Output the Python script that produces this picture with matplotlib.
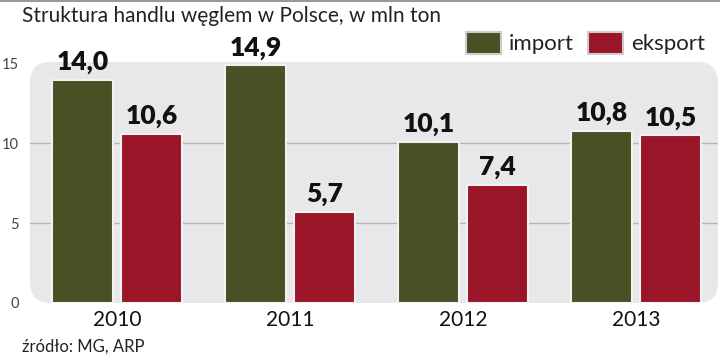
import matplotlib
matplotlib.use("Agg")
import matplotlib.pyplot as plt
from matplotlib.patches import FancyBboxPatch, Patch
from matplotlib.lines import Line2D
import numpy as np

plt.rcParams['font.family'] = ['Lato', 'DejaVu Sans']

# data
years = ['2010', '2011', '2012', '2013']
import_vals = [14.0, 14.9, 10.1, 10.8]
export_vals = [10.6, 5.7, 7.4, 10.5]
series_names = ['import', 'eksport']
yticks = [0, 5, 10, 15]

c_imp = '#4a5024'
c_exp = '#9b1528'

fig = plt.figure(figsize=(7.2, 3.6), dpi=100)
ax = fig.add_axes([30/720, 1 - 303/360, 688/720, (303 - 62)/360])

# rounded grey panel behind the plot
ax.patch.set_visible(False)
panel = FancyBboxPatch((0, 0), 1, 1, boxstyle='round,pad=0,rounding_size=0.03',
                       mutation_aspect=2.85, transform=ax.transAxes,
                       facecolor='#e8e8ea', edgecolor='none', zorder=0, clip_on=False)
ax.add_patch(panel)

x = np.arange(len(years))
w = 0.35
off = 0.2
b1 = ax.bar(x - off, import_vals, w, color=c_imp, edgecolor='#f2f2f2', linewidth=1.5, zorder=3)
b2 = ax.bar(x + off, export_vals, w, color=c_exp, edgecolor='#f2f2f2', linewidth=1.5, zorder=3)

for bars, vals in ((b1, import_vals), (b2, export_vals)):
    for b, v in zip(bars, vals):
        ax.text(b.get_x() + b.get_width() / 2, v + 0.35, f'{v:.1f}'.replace('.', ','),
                ha='center', va='bottom', fontsize=19, fontweight='heavy', color='#111111',
                zorder=4)

for yv in (5, 10):
    ax.axhline(yv, color='#b5b5b5', linewidth=1, zorder=1)

ax.set_xlim(-0.503, 3.474)
ax.set_ylim(0, 15.1)
ax.set_yticks(yticks)
ax.set_yticklabels([str(t) for t in yticks], fontsize=10.5, color='#444444')
ax.set_xticks(x)
ax.set_xticklabels(years, fontsize=15, color='#111111')
ax.tick_params(axis='both', length=0)
ax.tick_params(axis='y', pad=8)
ax.tick_params(axis='x', pad=5)
for s in ax.spines.values():
    s.set_visible(False)

fig.text(22/720, 1 - 16/360, 'Struktura handlu węglem w Polsce, w mln ton',
         fontsize=15, color='#222222', va='center', ha='left')
fig.text(22/720, 1 - 347/360, 'źródło: MG, ARP', fontsize=12,
         color='#222222', va='center', ha='left')

handles = [Patch(facecolor=c_imp, edgecolor='#cccccc', linewidth=1.5),
           Patch(facecolor=c_exp, edgecolor='#cccccc', linewidth=1.5)]
fig.legend(handles, series_names, loc='center right', bbox_to_anchor=(716/720, 1 - 43/360),
           ncol=2, frameon=False, handlelength=1.6, handleheight=1.2,
           handletextpad=0.35, columnspacing=0.6, labelcolor='#222222',
           borderpad=0, prop={'size': 16})

fig.add_artist(Line2D([0, 1], [0.997, 0.997], color='#999999', linewidth=1.5,
                      transform=fig.transFigure))

fig.savefig('out.png', dpi=100)
